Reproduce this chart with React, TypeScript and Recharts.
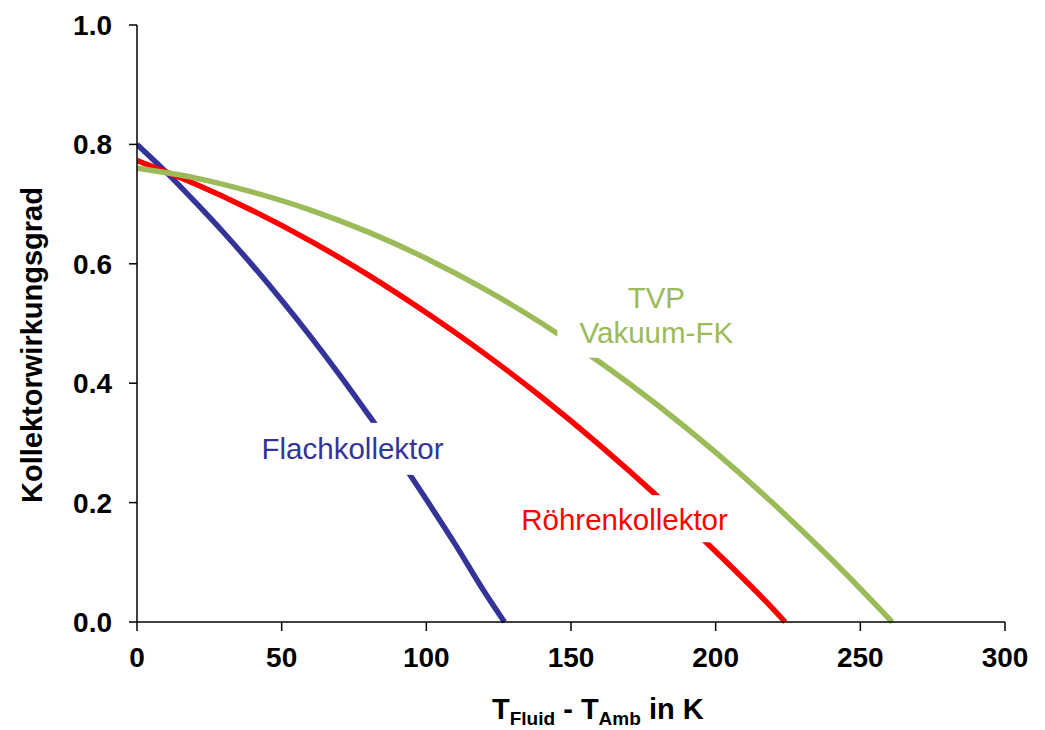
import { LineChart, Line, XAxis, YAxis, ReferenceDot } from 'recharts';

// T_Fluid - T_Amb in K, efficiency
const flachX = [0, 10, 20, 30, 40, 50, 60, 70, 80, 90, 100, 110, 120, 127];
const flachEta = [0.8, 0.754, 0.704, 0.652, 0.597, 0.539, 0.478, 0.414, 0.347, 0.278, 0.205, 0.13, 0.051, 0];

const roehrenX = [0, 20, 40, 60, 80, 100, 120, 140, 160, 180, 200, 220, 224];
const roehrenEta = [0.773, 0.734, 0.689, 0.638, 0.581, 0.518, 0.45, 0.376, 0.296, 0.21, 0.118, 0.021, 0];

const tvpX = [0, 20, 40, 60, 80, 100, 120, 140, 160, 180, 200, 220, 240, 261];
const tvpEta = [0.76, 0.744, 0.72, 0.69, 0.653, 0.609, 0.558, 0.5, 0.435, 0.363, 0.284, 0.198, 0.105, 0];

const xTicks = [0, 50, 100, 150, 200, 250, 300];
const yTicks = [0, 0.2, 0.4, 0.6, 0.8, 1.0];

const FONT = '"Liberation Sans", Arial, Helvetica, sans-serif';
const BLUE = '#333399';
const RED = '#ff0000';
const GREEN = '#9bbb59';

const toPoints = (xs: number[], ys: number[]) => xs.map((x, i) => ({ x, eta: ys[i] }));

type LabelProps = {
  cx?: number;
  cy?: number;
  lines: string[];
  color: string;
  w: number;
  h: number;
  offsets: number[];
};

// white box behind the label, so the curve is cut where the text sits
function SeriesLabel({ cx = 0, cy = 0, lines, color, w, h, offsets }: LabelProps) {
  return (
    <g>
      <rect x={cx - w / 2} y={cy - h / 2} width={w} height={h} fill="#fff" />
      {lines.map((t, i) => (
        <text
          key={t}
          x={cx}
          y={cy + offsets[i]}
          textAnchor="middle"
          fill={color}
          fontSize={29.5}
          fontFamily={FONT}
        >
          {t}
        </text>
      ))}
    </g>
  );
}

export default function App() {
  return (
    <div style={{ position: 'absolute', left: 0, top: 0, background: '#fff' }}>
      <LineChart width={1045} height={730} margin={{ top: 25, right: 40, left: 0, bottom: 0 }}>
        <XAxis
          type="number"
          dataKey="x"
          domain={[0, 300]}
          ticks={xTicks}
          height={108}
          stroke="#000"
          strokeWidth={1.5}
          tickSize={9}
          tickMargin={16}
          tick={{ fill: '#000', fontSize: 28, fontWeight: 700, fontFamily: FONT }}
          allowDataOverflow
        />
        <YAxis
          type="number"
          domain={[0, 1]}
          ticks={yTicks}
          width={137}
          stroke="#000"
          strokeWidth={1.5}
          tickSize={8}
          tickMargin={17}
          tickFormatter={(v: number) => v.toFixed(1)}
          tick={{ fill: '#000', fontSize: 28, fontWeight: 700, fontFamily: FONT }}
        />
        <Line
          data={toPoints(flachX, flachEta)}
          dataKey="eta"
          type="monotone"
          stroke={BLUE}
          strokeWidth={5.5}
          dot={false}
          isAnimationActive={false}
        />
        <Line
          data={toPoints(roehrenX, roehrenEta)}
          dataKey="eta"
          type="monotone"
          stroke={RED}
          strokeWidth={5.5}
          dot={false}
          isAnimationActive={false}
        />
        <Line
          data={toPoints(tvpX, tvpEta)}
          dataKey="eta"
          type="monotone"
          stroke={GREEN}
          strokeWidth={5.5}
          dot={false}
          isAnimationActive={false}
        />
        <ReferenceDot
          x={74.5}
          y={0.29}
          r={0}
          shape={(p: any) => (
            <SeriesLabel cx={p.cx} cy={p.cy} lines={['Flachkollektor']} color={BLUE} w={204} h={52} offsets={[10.5]} />
          )}
        />
        <ReferenceDot
          x={168.5}
          y={0.173}
          r={0}
          shape={(p: any) => (
            <SeriesLabel cx={p.cx} cy={p.cy} lines={['Röhrenkollektor']} color={RED} w={250} h={47} offsets={[11.5]} />
          )}
        />
        <ReferenceDot
          x={179.5}
          y={0.508}
          r={0}
          shape={(p: any) => (
            <SeriesLabel
              cx={p.cx}
              cy={p.cy}
              lines={['TVP', 'Vakuum-FK']}
              color={GREEN}
              w={198}
              h={78}
              offsets={[-11, 24]}
            />
          )}
        />
        <text
          x={42}
          y={345}
          transform="rotate(-90 42 345)"
          textAnchor="middle"
          fontSize={29}
          fontWeight={700}
          fontFamily={FONT}
          fill="#000"
        >
          Kollektorwirkungsgrad
        </text>
        <text x={492} y={719} fontSize={29} fontWeight={700} fontFamily={FONT} fill="#000">
          T
          <tspan fontSize={19} dy={6}>Fluid</tspan>
          <tspan dy={-6}>{' - T'}</tspan>
          <tspan fontSize={19} dy={6}>Amb</tspan>
          <tspan dy={-6}>{' in K'}</tspan>
        </text>
      </LineChart>
    </div>
  );
}
